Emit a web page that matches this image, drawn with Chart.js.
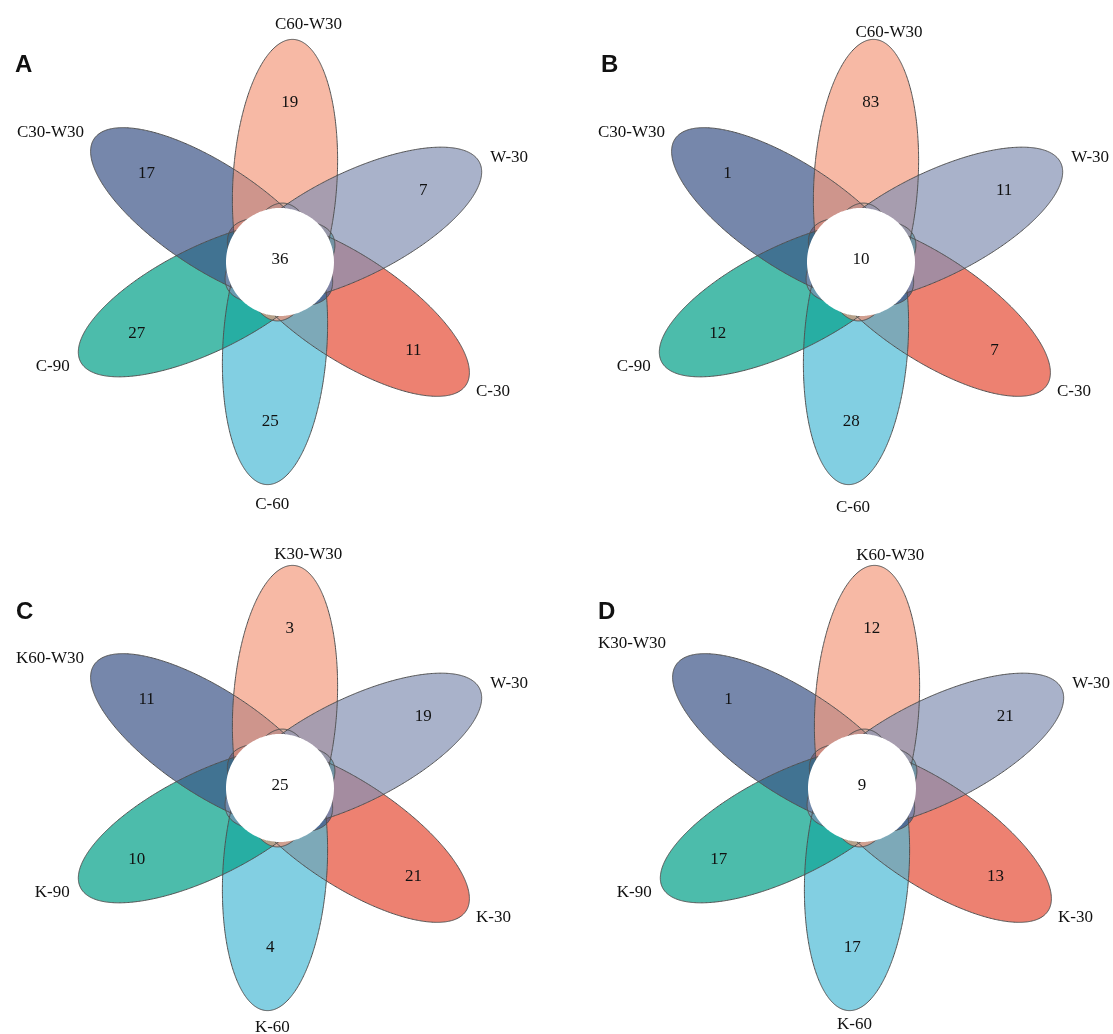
<!DOCTYPE html>
<html>
<head>
<title>Flower plots</title>
<script src="https://cdn.jsdelivr.net/npm/chart.js"></script>
<style>
  body { margin: 0; background: #fff; }
  .panel { position: absolute; }
</style>
</head>
<body>
<div class="panel" style="left:0px;top:0px"><canvas id="panelA" width="556" height="517"></canvas></div>
<div class="panel" style="left:556px;top:0px"><canvas id="panelB" width="557" height="517"></canvas></div>
<div class="panel" style="left:0px;top:517px"><canvas id="panelC" width="556" height="517"></canvas></div>
<div class="panel" style="left:556px;top:517px"><canvas id="panelD" width="557" height="517"></canvas></div>
<script>
// petal order: top, upper-left, lower-left, bottom, lower-right, upper-right
const panelLetters = ['A', 'B', 'C', 'D'];
const setsA = ['C60-W30', 'C30-W30', 'C-90', 'C-60', 'C-30', 'W-30'];
const setsB = ['C60-W30', 'C30-W30', 'C-90', 'C-60', 'C-30', 'W-30'];
const setsC = ['K30-W30', 'K60-W30', 'K-90', 'K-60', 'K-30', 'W-30'];
const setsD = ['K60-W30', 'K30-W30', 'K-90', 'K-60', 'K-30', 'W-30'];
const uniqueA = [19, 17, 27, 25, 11, 7];
const uniqueB = [83, 1, 12, 28, 7, 11];
const uniqueC = [3, 11, 10, 4, 21, 19];
const uniqueD = [12, 1, 17, 17, 13, 21];
const coreCounts = [36, 10, 25, 9];

const petalColors = ['#F39B7F', '#3C5488', '#00A087', '#4DBBD5', '#E64B35', '#8491B4'];
const FILL_ALPHA = 0.7;
// painting order, last one ends on top
const stackOrder = [4, 3, 2, 1, 0, 5];

// flower geometry in pixels
const TILT = -3.5;
const OFFSET = 82, SEMI_MAJOR = 141, SEMI_MINOR = 52, CORE_R = 54;
const NUM_R = 160, LABEL_R = 235;

const panels = [
  {id: 'panelA', w: 556, h: 517, cx: 280, cy: 262, letterX: 15, letterY: 72, topR: 238, bottomR: 243, ulDy: 0, names: setsA, counts: uniqueA},
  {id: 'panelB', w: 557, h: 517, cx: 305, cy: 262, letterX: 45, letterY: 72, topR: 230, bottomR: 246, ulDy: 0, names: setsB, counts: uniqueB},
  {id: 'panelC', w: 556, h: 517, cx: 280, cy: 271, letterX: 16, letterY: 102, topR: 234, bottomR: 240, ulDy: 0, names: setsC, counts: uniqueC},
  {id: 'panelD', w: 557, h: 517, cx: 306, cy: 271, letterX: 42, letterY: 102, topR: 233, bottomR: 237, ulDy: -15, names: setsD, counts: uniqueD}
];

function petalAngle(i) {
  return (90 + 60 * i + TILT) * Math.PI / 180;
}

function rgba(hex, a) {
  const n = parseInt(hex.slice(1), 16);
  return `rgba(${n >> 16},${(n >> 8) & 255},${n & 255},${a})`;
}

function ellipsePoints(i) {
  const a = petalAngle(i);
  const ex = OFFSET * Math.cos(a), ey = OFFSET * Math.sin(a);
  const pts = [];
  for (let k = 0; k <= 160; k++) {
    const t = k / 160 * 2 * Math.PI;
    const u = SEMI_MAJOR * Math.cos(t), v = SEMI_MINOR * Math.sin(t);
    pts.push({x: ex + u * Math.cos(a) - v * Math.sin(a), y: ey + u * Math.sin(a) + v * Math.cos(a)});
  }
  return pts;
}

function circlePoints(r) {
  const pts = [];
  for (let k = 0; k <= 120; k++) {
    const t = k / 120 * 2 * Math.PI;
    pts.push({x: r * Math.cos(t), y: r * Math.sin(t)});
  }
  return pts;
}

function textPlugin(p, letter, core) {
  return {
    id: 'flowerText',
    afterDatasetsDraw(chart) {
      const {ctx, scales: {x, y}} = chart;
      ctx.save();
      ctx.fillStyle = '#111';
      ctx.font = '17px "Liberation Serif", "Times New Roman", serif';
      ctx.textAlign = 'center';
      ctx.textBaseline = 'middle';
      ctx.fillText(String(core), x.getPixelForValue(0), y.getPixelForValue(2));

      p.counts.forEach((v, i) => {
        const a = petalAngle(i);
        ctx.fillText(String(v), x.getPixelForValue(NUM_R * Math.cos(a)), y.getPixelForValue(NUM_R * Math.sin(a)));
      });

      p.names.forEach((name, i) => {
        const a = petalAngle(i);
        let r = LABEL_R, dx = 0, dy = 0;
        if (i === 0) { r = p.topR; dx = 14; ctx.textAlign = 'center'; }
        else if (i === 3) { r = p.bottomR; dx = 7; ctx.textAlign = 'center'; }
        else if (i === 1) { dy = p.ulDy; ctx.textAlign = 'right'; }
        else if (i === 2) ctx.textAlign = 'right';
        else ctx.textAlign = 'left';
        ctx.fillText(name, x.getPixelForValue(r * Math.cos(a)) + dx, y.getPixelForValue(r * Math.sin(a)) + dy);
      });

      ctx.font = 'bold 24px "Liberation Sans", Arial, sans-serif';
      ctx.textAlign = 'left';
      ctx.textBaseline = 'alphabetic';
      ctx.fillText(letter, p.letterX, p.letterY);
      ctx.restore();
    }
  };
}

panels.forEach((p, idx) => {
  const datasets = [];
  datasets.push({
    data: circlePoints(CORE_R), showLine: true, fill: 'shape',
    backgroundColor: '#ffffff', borderColor: 'rgba(0,0,0,0)', borderWidth: 1
  });
  for (let i = 0; i < 6; i++) {
    datasets.push({
      data: ellipsePoints(i), showLine: true, fill: false,
      borderColor: '#4f4f4f', borderWidth: 1
    });
  }
  for (let s = stackOrder.length - 1; s >= 0; s--) {
    const i = stackOrder[s];
    datasets.push({
      data: ellipsePoints(i), showLine: true, fill: 'shape',
      backgroundColor: rgba(petalColors[i], FILL_ALPHA), borderColor: 'rgba(0,0,0,0)', borderWidth: 1
    });
  }

  new Chart(document.getElementById(p.id), {
    type: 'scatter',
    data: {datasets: datasets},
    options: {
      responsive: false,
      animation: false,
      events: [],
      layout: {padding: 0},
      elements: {point: {radius: 0, hoverRadius: 0}, line: {tension: 0.1}},
      plugins: {legend: {display: false}, tooltip: {enabled: false}},
      scales: {
        x: {type: 'linear', display: false, min: -p.cx, max: p.w - p.cx},
        y: {type: 'linear', display: false, min: p.cy - p.h, max: p.cy}
      }
    },
    plugins: [textPlugin(p, panelLetters[idx], coreCounts[idx])]
  });
});
</script>
</body>
</html>
